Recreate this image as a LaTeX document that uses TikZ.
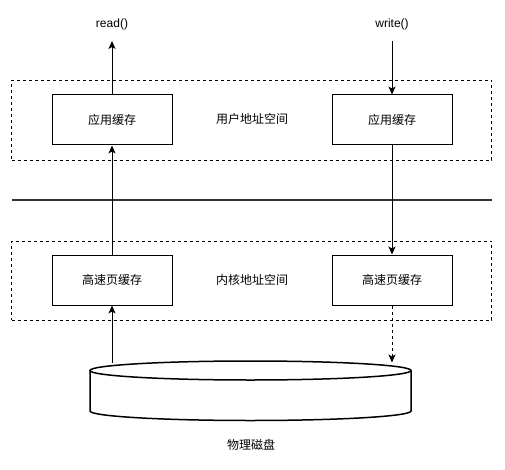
\documentclass[tikz,border=0pt]{standalone}
\usepackage{fontspec}
\setmainfont{Liberation Sans}
\newfontfamily\cjk{Noto Sans CJK SC}
\usetikzlibrary{arrows.meta,shapes.geometric}
\begin{document}
\begin{tikzpicture}[x=1pt,y=-1pt,
  every node/.style={font=\fontsize{12}{14}\selectfont},
  cachebox/.style={draw,line width=1pt,minimum width=120pt,minimum height=50pt,inner sep=0pt,font=\cjk\fontsize{12}{14}\selectfont},
  spacebox/.style={draw,dashed,line width=0.8pt,dash pattern=on 3pt off 3pt},
  lbl/.style={inner sep=0pt,font=\cjk\fontsize{12}{14}\selectfont},
  arr/.style={line width=1pt,-{Stealth[length=8pt,width=7pt,inset=2pt]}}
]
\useasboundingbox (0,0) rectangle (505,470);
% dashed regions
\node[spacebox,minimum width=480pt,minimum height=80pt,inner sep=0pt] (user) at (251.5,120.5) {};
\node[spacebox,minimum width=480pt,minimum height=79pt,inner sep=0pt] (kern) at (251.5,280.5) {};
% thick separator
\coordinate (sepL) at (12,200.5);
\coordinate (sepR) at (492,200.5);
\draw[line width=2pt,black!80] (sepL) -- (sepR);
% boxes
\node[cachebox] (ua) at (112,120) {应用缓存};
\node[cachebox] (ub) at (392,120) {应用缓存};
\node[cachebox] (ka) at (112,280) {高速页缓存};
\node[cachebox] (kb) at (392,280) {高速页缓存};
\node[lbl] (ulbl) at (252,119) {用户地址空间};
\node[lbl] (klbl) at (252,280) {内核地址空间};
% text
\node[inner sep=0pt] (rd) at (112,24) {read()};
\node[inner sep=0pt] (wr) at (392,24) {write()};
\node[lbl] (disklbl) at (251,445) {物理磁盘};
% cylinder
\draw[line width=1.5pt,fill=white] (90,370.5) -- (90,411) arc[start angle=180,end angle=0,x radius=160.5,y radius=9.5] -- (411,370.5);
\draw[line width=1.5pt,fill=white] (250.5,370.5) ellipse[x radius=160.5,y radius=9.5];
\coordinate (diskA) at (112,362.5);
\coordinate (diskB) at (392,362.5);
\coordinate (rdtip) at (112,41);
\coordinate (wrtop) at (392,41);
% arrows
\draw[arr] (ua.north) -- (rdtip);
\draw[arr] (wrtop) -- (ub.north);
\draw[arr] (ka.north) -- (ua.south);
\draw[arr] (ub.south) -- (kb.north);
\draw[arr] (diskA) -- (ka.south);
\draw[arr,dashed,dash pattern=on 3pt off 3pt] (kb.south) -- (diskB);
\end{tikzpicture}
\end{document}
